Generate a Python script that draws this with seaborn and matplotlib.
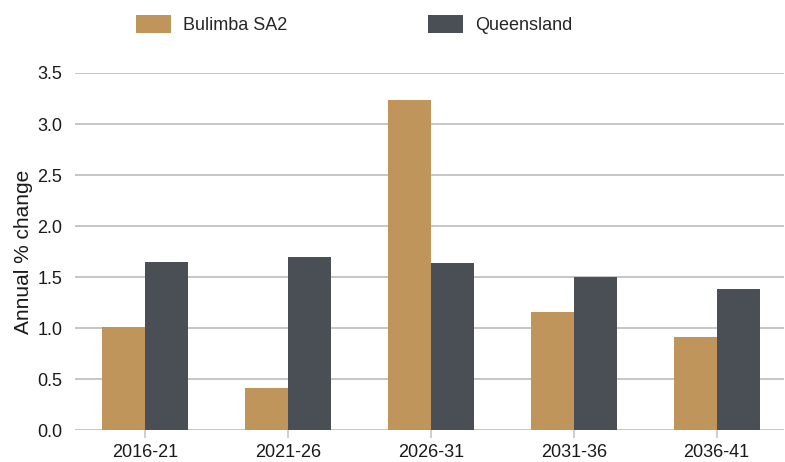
import pandas as pd
import seaborn as sns
import matplotlib.pyplot as plt

periods = ['2016-21', '2021-26', '2026-31', '2031-36', '2036-41']
bulimba = [1.01, 0.41, 3.24, 1.16, 0.91]
queensland = [1.65, 1.70, 1.64, 1.50, 1.38]

df = pd.DataFrame({
    'period': periods * 2,
    'value': bulimba + queensland,
    'area': ['Bulimba SA2'] * len(periods) + ['Queensland'] * len(periods),
})

sns.set_style("white")
plt.rcParams['font.family'] = ['Liberation Sans', 'DejaVu Sans']

fig = plt.figure(figsize=(7.85, 4.62), dpi=100)
ax = fig.add_axes([0.0955, 0.069, 0.903, 0.773])

#Bars
sns.barplot(data=df, x='period', y='value', hue='area', width=0.6, gap=0,
            palette={'Bulimba SA2': '#BF955C', 'Queensland': '#4A4F56'},
            saturation=1, linewidth=0, ax=ax, zorder=3)

#Grid and axes
ax.set_ylim(0, 3.5)
ax.set_xlim(-0.49, 4.47)
ax.set_yticks([0, 0.5, 1.0, 1.5, 2.0, 2.5, 3.0, 3.5])
ax.set_yticklabels([f'{v:.1f}' for v in ax.get_yticks()])
ax.yaxis.grid(True, color='#c6c6c6', linewidth=1.4, zorder=0)
ax.set_axisbelow(True)
for s in ax.spines.values():
    s.set_visible(False)
ax.tick_params(axis='y', length=0, labelsize=13, pad=9, labelcolor='#1a1a1a')
ax.tick_params(axis='x', length=6, width=1.2, color='#c6c6c6', labelsize=13, pad=4,
               labelcolor='#1a1a1a', bottom=True)

#Labels
ax.set_xlabel('')
ax.set_ylabel('Annual % change', fontsize=15, color='#1a1a1a', labelpad=3)

#Legend
leg = ax.legend(loc='upper left', bbox_to_anchor=(136 / 785, 1 - 15 / 462),
                bbox_transform=fig.transFigure, ncol=2, frameon=False, fontsize=13,
                handlelength=1.94, handleheight=1.17, handletextpad=0.67,
                columnspacing=7.8, borderaxespad=0, borderpad=0)

fig.savefig('out.png', dpi=100)
